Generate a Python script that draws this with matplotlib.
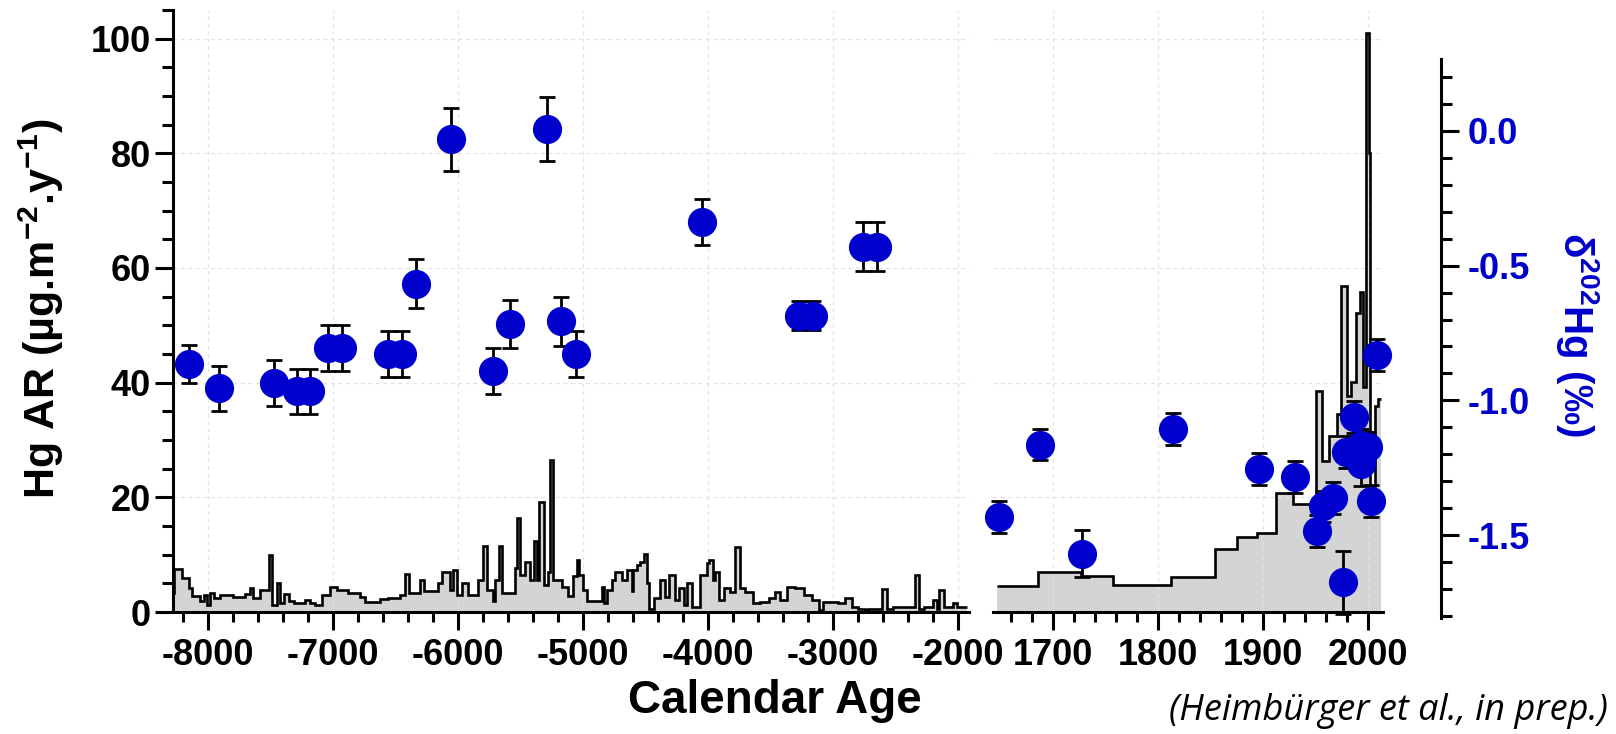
import matplotlib
matplotlib.use("Agg")
import matplotlib.pyplot as plt
from matplotlib.ticker import MultipleLocator, FormatStrFormatter

plt.rcParams['font.family'] = ['Liberation Sans', 'DejaVu Sans']
plt.rcParams['font.weight'] = 'bold'
plt.rcParams['axes.unicode_minus'] = False
plt.rcParams['mathtext.fontset'] = 'custom'
plt.rcParams['mathtext.rm'] = 'Liberation Sans:bold'
plt.rcParams['mathtext.bf'] = 'Liberation Sans:bold'
plt.rcParams['mathtext.default'] = 'bf'

# Hg accumulation rate, Holocene part (step edges in years, values in ug/m2/y)
old_edges = [-8285, -8272, -8205, -8152, -8125, -8060, -8030, -8005, -7985, -7950,
             -7900, -7800, -7700, -7660, -7640, -7580, -7510, -7490, -7450, -7420,
             -7390, -7350, -7310, -7220, -7180, -7140, -7085, -7020, -6970, -6880,
             -6780, -6740, -6620, -6560, -6460, -6420, -6390, -6300, -6270, -6160,
             -6130, -6060, -6040, -6010, -5970, -5920, -5840, -5800, -5770, -5720,
             -5700, -5675, -5650, -5540, -5525, -5505, -5460, -5420, -5395, -5365,
             -5350, -5310, -5280, -5265, -5240, -5170, -5120, -5075, -5045, -5030,
             -5000, -4965, -4845, -4830, -4810, -4770, -4740, -4690, -4650, -4610,
             -4600, -4570, -4540, -4510, -4485, -4470, -4430, -4380, -4340, -4310,
             -4260, -4230, -4190, -4165, -4130, -4060, -4005, -3990, -3955, -3940,
             -3910, -3870, -3820, -3780, -3745, -3700, -3640, -3580, -3510, -3460,
             -3420, -3370, -3300, -3230, -3170, -3110, -3080, -2960, -2900, -2850,
             -2800, -2740, -2720, -2610, -2570, -2520, -2340, -2310, -2270, -2200,
             -2170, -2150, -2110, -2040, -2010, -1925]
old_ar = [3.4, 7.5, 6.0, 4.2, 2.8, 1.9, 3.0, 1.3, 3.3, 2.4,
          3.0, 2.7, 3.2, 4.1, 2.4, 3.8, 10.0, 1.3, 5.0, 1.6,
          3.2, 1.9, 1.6, 2.1, 1.6, 1.2, 3.0, 4.4, 3.8, 3.3,
          2.7, 1.8, 2.2, 2.4, 3.0, 6.7, 3.3, 5.6, 3.7, 5.0,
          6.9, 3.8, 7.3, 3.0, 5.0, 3.0, 5.6, 11.5, 3.8, 1.9,
          5.6, 11.5, 3.3, 7.6, 16.4, 6.5, 8.8, 5.6, 12.3, 5.6,
          19.2, 4.7, 7.0, 26.5, 5.6, 4.4, 2.8, 6.2, 9.0, 6.5,
          3.8, 1.9, 4.4, 1.6, 3.8, 5.6, 7.0, 5.6, 7.3, 3.6,
          7.3, 8.2, 8.8, 10.2, 5.0, 0.6, 2.4, 5.6, 2.7, 6.5,
          2.1, 4.1, 1.2, 5.0, 0.9, 6.5, 8.5, 9.0, 5.5, 7.0,
          2.1, 4.1, 3.5, 11.4, 4.1, 3.5, 1.5, 1.8, 2.4, 3.5,
          2.1, 4.4, 4.1, 3.0, 2.1, 0.3, 1.8, 1.5, 2.4, 0.9,
          0.6, 0.3, 0.6, 4.0, 0.6, 0.9, 6.5, 0.6, 0.9, 2.1,
          0.6, 3.8, 0.9, 1.5, 0.9]

# Hg accumulation rate, recent part
new_edges = [1647, 1686, 1727, 1757, 1812, 1854, 1875, 1894, 1912, 1928,
             1950, 1956, 1963, 1970, 1974, 1980, 1984, 1988, 1992, 1995,
             1997.5, 2000.5, 2002, 2006, 2009, 2012]
new_ar = [4.5, 6.9, 6.3, 4.7, 6.1, 11.0, 13.0, 13.7, 20.7, 18.8,
          38.5, 26.3, 30.7, 34.6, 56.9, 37.6, 40.1, 52.1, 55.9, 39.3,
          101, 80, 21.9, 36, 37.2]

# d202Hg samples
old_year = [-8155, -7908, -7470, -7290, -7180, -7040, -6930, -6560, -6450, -6333,
            -6053, -5722, -5582, -5285, -5178, -5056, -4050, -3270, -3160, -2760, -2650]
old_d202 = [-0.865, -0.956, -0.935, -0.967, -0.967, -0.807, -0.807, -0.829, -0.829, -0.567,
            -0.031, -0.892, -0.716, 0.006, -0.707, -0.829, -0.339, -0.686, -0.686, -0.429, -0.429]
old_err = [0.070, 0.085, 0.085, 0.085, 0.085, 0.085, 0.085, 0.085, 0.085, 0.090,
           0.117, 0.085, 0.090, 0.119, 0.090, 0.085, 0.085, 0.053, 0.053, 0.090, 0.090]

new_year = [1649, 1688, 1728, 1814, 1896, 1930, 1951, 1957, 1966, 1976,
            1979, 1986, 1993, 1993, 1997, 2000, 2003, 2008]
new_d202 = [-1.433, -1.164, -1.569, -1.106, -1.255, -1.284, -1.484, -1.394, -1.364, -1.676,
            -1.193, -1.062, -1.167, -1.237, -1.175, -1.175, -1.375, -0.833]
new_err = [0.059, 0.059, 0.088, 0.059, 0.059, 0.059, 0.059, 0.059, 0.059, 0.117,
           0.059, 0.059, 0.059, 0.080, 0.059, 0.059, 0.059, 0.059]

W, H = 1616, 734
BLUE = '#0000cc'
GRAY = '#d4d4d4'


def frac(x0, x1, ytop, ybot):
    return [x0 / W, 1 - ybot / H, (x1 - x0) / W, (ybot - ytop) / H]


fig = plt.figure(figsize=(W / 100, H / 100), dpi=100)

ax1 = fig.add_axes(frac(173, 969, 10, 612))
ax2 = fig.add_axes(frac(993, 1383, 10, 612))
axd = fig.add_axes(frac(1440, 1441, 59, 618))

# right delta axis limits and the matching limits for the panel twins
d_top, d_bot = 0.267, -1.808
slope = (d_top - d_bot) / (618 - 59)
tw_lim = (d_bot + (618 - 612) * slope, d_bot + (618 - 10) * slope)

for ax, edges, vals, xlim, maj, mnr in [
        (ax1, old_edges, old_ar, (-8280, -1910), 1000, 200),
        (ax2, new_edges, new_ar, (1643, 2014), 100, 20)]:
    ax.stairs(vals, edges, fill=True, color=GRAY, zorder=1)
    ax.stairs(vals, edges, color='black', lw=1.9, baseline=None, zorder=2)
    ax.set_xlim(*xlim)
    ax.set_ylim(0, 105)
    ax.xaxis.set_major_locator(MultipleLocator(maj))
    ax.xaxis.set_minor_locator(MultipleLocator(mnr))
    ax.set_axisbelow('line')
    ax.grid(True, which='major', color='#e2e2e2', lw=0.9, ls=(0, (3, 3)))
    for s in ['top', 'right']:
        ax.spines[s].set_visible(False)
    ax.spines['bottom'].set_linewidth(2.2)
    ax.tick_params(axis='x', which='major', length=13, width=2.2, labelsize=26, pad=6)
    ax.tick_params(axis='x', which='minor', length=7.5, width=2.2)
    ax.set_facecolor('none')

# isotope samples on twin axes
for ax, xs, ys, es in [(ax1, old_year, old_d202, old_err),
                       (ax2, new_year, new_d202, new_err)]:
    tw = ax.twinx()
    tw.set_ylim(*tw_lim)
    tw.axis('off')
    tw.errorbar(xs, ys, yerr=es, fmt='o', color=BLUE, ms=20, mec=BLUE,
                ecolor='black', elinewidth=2, capsize=6, capthick=2,
                clip_on=False, zorder=3)

ax1.spines['left'].set_linewidth(2.2)
ax1.yaxis.set_major_locator(MultipleLocator(20))
ax1.yaxis.set_minor_locator(MultipleLocator(5))
ax1.tick_params(axis='y', which='major', length=13, width=2.2, labelsize=26, pad=3)
ax1.tick_params(axis='y', which='minor', length=8, width=2.2)

ax2.spines['left'].set_visible(False)
ax2.tick_params(axis='y', which='both', left=False, right=False,
                labelleft=False, labelright=False)

# right delta axis
axd.set_ylim(d_bot, d_top)
axd.set_xticks([])
for s in ['top', 'left', 'bottom']:
    axd.spines[s].set_visible(False)
axd.spines['right'].set_linewidth(2.2)
axd.yaxis.tick_right()
axd.yaxis.set_major_locator(MultipleLocator(0.5))
axd.yaxis.set_minor_locator(MultipleLocator(0.1))
axd.yaxis.set_major_formatter(FormatStrFormatter('%.1f'))
axd.tick_params(axis='y', which='major', length=13, width=2.2, labelsize=26,
                labelcolor=BLUE, pad=6)
axd.tick_params(axis='y', which='minor', length=8, width=2.2)
axd.set_facecolor('none')

fig.text(41 / W, 1 - 309 / H, r'Hg AR (µg.m$^{-2}$.y$^{-1}$)', rotation=90,
         ha='center', va='center', fontsize=31, fontweight='bold')
fig.text(775 / W, 1 - 713 / H, 'Calendar Age', ha='center', va='baseline',
         fontsize=33, fontweight='bold')
fig.text(1577 / W, 1 - 334 / H, r'δ$^{202}$Hg (‰)', rotation=270,
         ha='center', va='center', fontsize=29, fontweight='bold', color=BLUE)
fig.text(1608 / W, 1 - 711 / H, '(Heimbürger et al., in prep.)', ha='right',
         va='center', fontsize=26, style='italic', fontweight='normal',
         family=['Open Sans', 'DejaVu Sans'])

fig.savefig('out.png', dpi=100)
